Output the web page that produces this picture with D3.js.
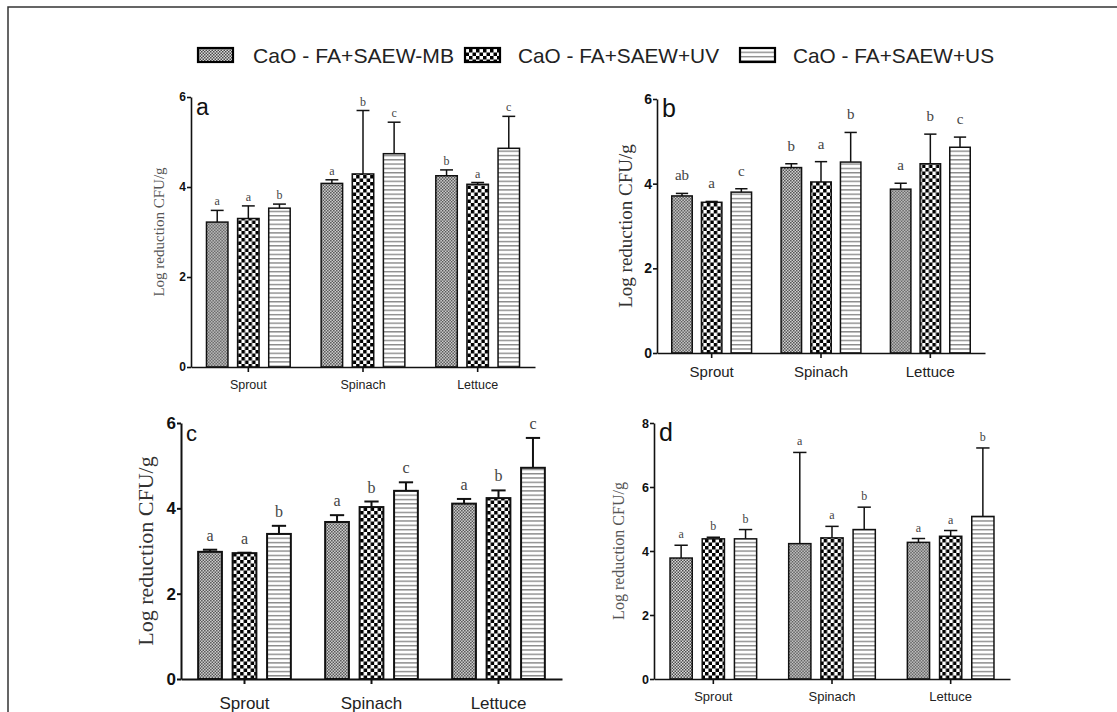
<!DOCTYPE html>
<html><head><meta charset="utf-8">
<script src="https://cdn.jsdelivr.net/npm/d3@7"></script>
<style>body{margin:0;background:#fff}svg{display:block}</style></head>
<body><svg id="chart" width="1117" height="712"></svg>
<script>
// ---------- DATA ----------
const categories = ["Sprout", "Spinach", "Lettuce"];
const seriesNames = ["CaO - FA+SAEW-MB", "CaO - FA+SAEW+UV", "CaO - FA+SAEW+US"];

// panel a (rows: categories, cols: series)
const aMeans   = [[3.22, 3.30, 3.53], [4.08, 4.29, 4.74], [4.25, 4.06, 4.86]];
const aErrors  = [[0.26, 0.28, 0.09], [0.08, 1.41, 0.70], [0.13, 0.04, 0.71]];
const aLetters = [["a", "a", "b"], ["a", "b", "c"], ["b", "a", "c"]];
const aTicks   = [0, 2, 4, 6];

// panel b
const bMeans   = [[3.71, 3.56, 3.80], [4.38, 4.04, 4.51], [3.87, 4.47, 4.86]];
const bErrors  = [[0.06, 0.02, 0.08], [0.09, 0.48, 0.70], [0.14, 0.70, 0.24]];
const bLetters = [["ab", "a", "c"], ["b", "a", "b"], ["a", "b", "c"]];
const bTicks   = [0, 2, 4, 6];

// panel c
const cMeans   = [[2.98, 2.95, 3.40], [3.68, 4.03, 4.41], [4.11, 4.24, 4.95]];
const cErrors  = [[0.05, 0.01, 0.19], [0.16, 0.13, 0.20], [0.11, 0.18, 0.70]];
const cLetters = [["a", "a", "b"], ["a", "b", "c"], ["a", "b", "c"]];
const cTicks   = [0, 2, 4, 6];

// panel d
const dMeans   = [[3.78, 4.38, 4.38], [4.23, 4.41, 4.67], [4.27, 4.46, 5.08]];
const dErrors  = [[0.40, 0.05, 0.29], [2.85, 0.36, 0.70], [0.12, 0.18, 2.14]];
const dLetters = [["a", "b", "b"], ["a", "a", "b"], ["a", "a", "b"]];
const dTicks   = [0, 2, 4, 6, 8];

const yLabel = "Log reduction CFU/g";
const panelTags = ["a", "b", "c", "d"];

// ---------- LAYOUT ----------
const panels = [
  {tag: panelTags[0], means: aMeans, errors: aErrors, letters: aLetters, ticks: aTicks,
   x0: 191, x1: 535, y0: 367, yTop: 97, tickFont: 12, catFont: 12.5, catDy: 20,
   ylab: {x: 159, size: 15, color: "#555"}, letFont: 12, letGap: 5, tagFont: 23, sw: 1.5, axw: 1.6},
  {tag: panelTags[1], means: bMeans, errors: bErrors, letters: bLetters, ticks: bTicks,
   x0: 657, x1: 985, y0: 353, yTop: 99, tickFont: 14, catFont: 15, catDy: 20,
   ylab: {x: 625, size: 19, color: "#333"}, letFont: 15, letGap: 13, tagFont: 25, sw: 1.5, axw: 1.6},
  {tag: panelTags[2], means: cMeans, errors: cErrors, letters: cLetters, ticks: cTicks,
   x0: 181, x1: 562, y0: 679, yTop: 423, tickFont: 17, catFont: 17, catDy: 25,
   ylab: {x: 145, size: 22, color: "#333"}, letFont: 16, letGap: 9, tagFont: 22, sw: 2, axw: 2},
  {tag: panelTags[3], means: dMeans, errors: dErrors, letters: dLetters, ticks: dTicks,
   x0: 654, x1: 1010, y0: 679, yTop: 423, tickFont: 12.5, catFont: 13, catDy: 20,
   ylab: {x: 618, size: 16, color: "#555"}, letFont: 12, letGap: 7, tagFont: 25, sw: 1.5, axw: 1.6}
];

const svg = d3.select("#chart");
const defs = svg.append("defs");

// patterns
const pMB = defs.append("pattern").attr("id", "pMB").attr("patternUnits", "userSpaceOnUse")
  .attr("width", 3).attr("height", 3);
pMB.append("rect").attr("width", 3).attr("height", 3).attr("fill", "#dcdcdc");
pMB.append("rect").attr("width", 1.5).attr("height", 1.5).attr("fill", "#4a4a4a");
pMB.append("rect").attr("x", 1.5).attr("y", 1.5).attr("width", 1.5).attr("height", 1.5).attr("fill", "#4a4a4a");

const pUV = defs.append("pattern").attr("id", "pUV").attr("patternUnits", "userSpaceOnUse")
  .attr("width", 7).attr("height", 7);
pUV.append("rect").attr("width", 7).attr("height", 7).attr("fill", "#fff");
pUV.append("rect").attr("width", 3.5).attr("height", 3.5).attr("fill", "#000");
pUV.append("rect").attr("x", 3.5).attr("y", 3.5).attr("width", 3.5).attr("height", 3.5).attr("fill", "#000");

const pUS = defs.append("pattern").attr("id", "pUS").attr("patternUnits", "userSpaceOnUse")
  .attr("width", 4).attr("height", 4.3);
pUS.append("rect").attr("width", 4).attr("height", 4.3).attr("fill", "#fff");
pUS.append("rect").attr("width", 4).attr("height", 1.4).attr("fill", "#8a8a8a");

const fills = ["url(#pMB)", "url(#pUV)", "url(#pUS)"];

// frame
svg.append("path").attr("d", "M8,712 L8,7 L1117,7").attr("fill", "none")
  .attr("stroke", "#333").attr("stroke-width", 1.5);

// legend
const legendPos = [{sx: 198, tx: 253}, {sx: 465, tx: 518}, {sx: 740, tx: 793}];
seriesNames.forEach((name, i) => {
  const g = svg.append("g");
  g.append("rect").attr("x", legendPos[i].sx).attr("y", 48).attr("width", 35).attr("height", 14)
    .attr("fill", fills[i]).attr("stroke", "#000").attr("stroke-width", 2.2);
  g.append("text").attr("x", legendPos[i].tx).attr("y", 63)
    .attr("font-family", "Liberation Sans, Arial, sans-serif").attr("font-size", 21)
    .attr("fill", "#222").attr("textLength", 201).attr("lengthAdjust", "spacingAndGlyphs")
    .text(name);
});

panels.forEach(p => {
  const g = svg.append("g");
  const maxV = p.ticks[p.ticks.length - 1];
  const y = d3.scaleLinear().domain([0, maxV]).range([p.y0, p.yTop]);
  const x = d3.scaleBand().domain(categories).range([p.x0, p.x1]).paddingInner(0.27).paddingOuter(0.135);
  const xs = d3.scaleBand().domain(d3.range(seriesNames.length)).range([0, x.bandwidth()])
    .paddingInner(0.31).paddingOuter(0);

  // bars
  categories.forEach((cat, ci) => {
    const cg = g.append("g").attr("transform", `translate(${x(cat)},0)`);
    seriesNames.forEach((s, si) => {
      const v = p.means[ci][si], e = p.errors[ci][si];
      const bx = xs(si), bw = xs.bandwidth(), cx = bx + bw / 2;
      // error bar
      cg.append("line").attr("x1", cx).attr("x2", cx).attr("y1", y(v)).attr("y2", y(v + e))
        .attr("stroke", "#111").attr("stroke-width", p.sw);
      cg.append("line").attr("x1", cx - bw * 0.3).attr("x2", cx + bw * 0.3)
        .attr("y1", y(v + e)).attr("y2", y(v + e))
        .attr("stroke", "#111").attr("stroke-width", p.sw);
      cg.append("rect").attr("x", bx).attr("y", y(v)).attr("width", bw).attr("height", y(0) - y(v))
        .attr("fill", fills[si]).attr("stroke", "#111").attr("stroke-width", p.sw);
      cg.append("text").attr("x", cx).attr("y", y(v + e) - p.letGap)
        .attr("text-anchor", "middle").attr("font-family", "Liberation Serif, Times New Roman, serif")
        .attr("font-size", p.letFont).attr("fill", "#444").text(p.letters[ci][si]);
    });
  });

  // axes
  const yAxis = d3.axisLeft(y).tickValues(p.ticks).tickSize(4).tickSizeOuter(0).tickPadding(1)
    .tickFormat(d3.format("d"));
  const ya = g.append("g").attr("transform", `translate(${p.x0},0)`).call(yAxis);
  ya.selectAll("text").attr("font-family", "Liberation Sans, Arial, sans-serif")
    .attr("font-size", p.tickFont).attr("font-weight", "bold").attr("fill", "#111");
  ya.selectAll("path,line").attr("stroke", "#111").attr("stroke-width", p.axw);

  const xAxis = d3.axisBottom(x).tickSize(5).tickSizeOuter(0).tickPadding(p.catDy - 12);
  const xa = g.append("g").attr("transform", `translate(0,${p.y0})`).call(xAxis);
  xa.selectAll("text").attr("font-family", "Liberation Sans, Arial, sans-serif")
    .attr("font-size", p.catFont).attr("fill", "#222");
  xa.selectAll("path,line").attr("stroke", "#111").attr("stroke-width", p.axw);

  // y label
  const ym = (p.y0 + p.yTop) / 2;
  g.append("text").attr("transform", `translate(${p.ylab.x},${ym}) rotate(-90)`)
    .attr("text-anchor", "middle").attr("dominant-baseline", "central")
    .attr("font-family", "Liberation Serif, Times New Roman, serif")
    .attr("font-size", p.ylab.size).attr("fill", p.ylab.color).text(yLabel);

  // panel tag
  g.append("text").attr("x", p.x0 + 5).attr("y", p.yTop + 18)
    .attr("font-family", "Liberation Sans, Arial, sans-serif").attr("font-size", p.tagFont)
    .attr("fill", "#111").text(p.tag);
});
</script></body></html>
